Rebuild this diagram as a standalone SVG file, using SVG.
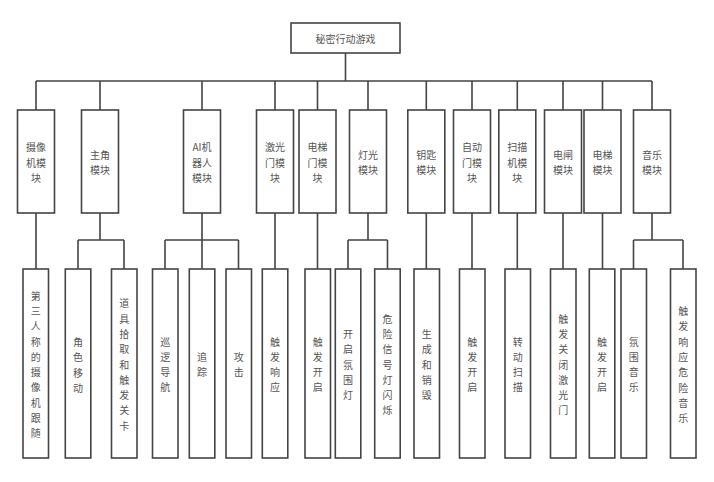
<svg xmlns="http://www.w3.org/2000/svg" width="714" height="482" viewBox="0 0 714 482">
<style>
.box{fill:#fff;stroke:#444;stroke-width:1.6}
.t{font-family:"Noto Sans CJK SC","Noto Sans",sans-serif;font-size:10px;fill:#555;text-anchor:middle;dominant-baseline:central}
.c{fill:none;stroke:#444;stroke-width:1.6}
</style>
<rect width="714" height="482" fill="#fff"/>
<g id="connectors">
<path class="c" d="M345.5,53V81M36,81H652M36,81V110M100,81V110M202,81V110M275,81V110M317.5,81V110M368,81V110M426.3,81V110M472,81V110M517.3,81V110M563,81V110M602.5,81V110M652,81V110"/>
<path class="c" d="M36,213V269M275,213V269M317.5,213V269M426.3,213V269M472,213V269M517.3,213V269M563,213V269M602.5,213V269"/>
<path class="c" d="M100,213V240M78,240H124M78,240V269M124,240V269"/>
<path class="c" d="M202,213V269M165,240H238.5M165,240V269M238.5,240V269"/>
<path class="c" d="M368,213V240M348,240H387.5M348,240V269M387.5,240V269"/>
<path class="c" d="M652,213V240M633.5,240H683M633.5,240V269M683,240V269"/>
</g>
<g id="root"><rect class="box" x="291" y="23" width="109" height="30"/><text class="t" x="345.5" y="38.5">秘密行动游戏</text></g>
<g id="m1"><rect class="box" x="17.5" y="110" width="37" height="103"/><text class="t" x="36"><tspan x="36" y="146">摄像</tspan><tspan x="36" y="161.5">机模</tspan><tspan x="36" y="177">块</tspan></text></g>
<g id="m2"><rect class="box" x="81.5" y="110" width="37" height="103"/><text class="t"><tspan x="100" y="153.75">主角</tspan><tspan x="100" y="169.25">模块</tspan></text></g>
<g id="m3"><rect class="box" x="183.5" y="110" width="37" height="103"/><text class="t"><tspan x="202" y="146">AI机</tspan><tspan x="202" y="161.5">器人</tspan><tspan x="202" y="177">模块</tspan></text></g>
<g id="m4"><rect class="box" x="256.5" y="110" width="37" height="103"/><text class="t"><tspan x="275" y="146">激光</tspan><tspan x="275" y="161.5">门模</tspan><tspan x="275" y="177">块</tspan></text></g>
<g id="m5"><rect class="box" x="299" y="110" width="37" height="103"/><text class="t"><tspan x="317.5" y="146">电梯</tspan><tspan x="317.5" y="161.5">门模</tspan><tspan x="317.5" y="177">块</tspan></text></g>
<g id="m6"><rect class="box" x="349.5" y="110" width="37" height="103"/><text class="t"><tspan x="368" y="153.75">灯光</tspan><tspan x="368" y="169.25">模块</tspan></text></g>
<g id="m7"><rect class="box" x="407.8" y="110" width="37" height="103"/><text class="t"><tspan x="426.3" y="153.75">钥匙</tspan><tspan x="426.3" y="169.25">模块</tspan></text></g>
<g id="m8"><rect class="box" x="453.5" y="110" width="37" height="103"/><text class="t"><tspan x="472" y="146">自动</tspan><tspan x="472" y="161.5">门模</tspan><tspan x="472" y="177">块</tspan></text></g>
<g id="m9"><rect class="box" x="498.8" y="110" width="37" height="103"/><text class="t"><tspan x="517.3" y="146">扫描</tspan><tspan x="517.3" y="161.5">机模</tspan><tspan x="517.3" y="177">块</tspan></text></g>
<g id="m10"><rect class="box" x="544.5" y="110" width="37" height="103"/><text class="t"><tspan x="563" y="153.75">电闸</tspan><tspan x="563" y="169.25">模块</tspan></text></g>
<g id="m11"><rect class="box" x="584" y="110" width="37" height="103"/><text class="t"><tspan x="602.5" y="153.75">电梯</tspan><tspan x="602.5" y="169.25">模块</tspan></text></g>
<g id="m12"><rect class="box" x="633.5" y="110" width="37" height="103"/><text class="t"><tspan x="652" y="153.75">音乐</tspan><tspan x="652" y="169.25">模块</tspan></text></g>
<g id="b1"><rect class="box" x="23" y="269" width="25.5" height="189"/><text class="t"><tspan x="35.8" y="294.6">第</tspan><tspan x="35.8" dy="15.3">三</tspan><tspan x="35.8" dy="15.3">人</tspan><tspan x="35.8" dy="15.3">称</tspan><tspan x="35.8" dy="15.3">的</tspan><tspan x="35.8" dy="15.3">摄</tspan><tspan x="35.8" dy="15.3">像</tspan><tspan x="35.8" dy="15.3">机</tspan><tspan x="35.8" dy="15.3">跟</tspan><tspan x="35.8" dy="15.3">随</tspan></text></g>
<g id="b2"><rect class="box" x="65.3" y="269" width="25.5" height="189"/><text class="t"><tspan x="78" y="341">角</tspan><tspan x="78" dy="15.3">色</tspan><tspan x="78" dy="15.3">移</tspan><tspan x="78" dy="15.3">动</tspan></text></g>
<g id="b3"><rect class="box" x="111.5" y="269" width="25.5" height="189"/><text class="t"><tspan x="124.2" y="302.3">道</tspan><tspan x="124.2" dy="15.3">具</tspan><tspan x="124.2" dy="15.3">拾</tspan><tspan x="124.2" dy="15.3">取</tspan><tspan x="124.2" dy="15.3">和</tspan><tspan x="124.2" dy="15.3">触</tspan><tspan x="124.2" dy="15.3">发</tspan><tspan x="124.2" dy="15.3">关</tspan><tspan x="124.2" dy="15.3">卡</tspan></text></g>
<g id="b4"><rect class="box" x="152.5" y="269" width="25.5" height="189"/><text class="t"><tspan x="165.2" y="340.5">巡</tspan><tspan x="165.2" dy="15.3">逻</tspan><tspan x="165.2" dy="15.3">导</tspan><tspan x="165.2" dy="15.3">航</tspan></text></g>
<g id="b5"><rect class="box" x="189.3" y="269" width="25.5" height="189"/><text class="t"><tspan x="202" y="355.9">追</tspan><tspan x="202" dy="15.3">踪</tspan></text></g>
<g id="b6"><rect class="box" x="226" y="269" width="25.5" height="189"/><text class="t"><tspan x="238.7" y="355.9">攻</tspan><tspan x="238.7" dy="15.3">击</tspan></text></g>
<g id="b7"><rect class="box" x="262.3" y="269" width="25.5" height="189"/><text class="t"><tspan x="275" y="340.5">触</tspan><tspan x="275" dy="15.3">发</tspan><tspan x="275" dy="15.3">响</tspan><tspan x="275" dy="15.3">应</tspan></text></g>
<g id="b8"><rect class="box" x="305" y="269" width="25.5" height="189"/><text class="t"><tspan x="317.7" y="340.5">触</tspan><tspan x="317.7" dy="15.3">发</tspan><tspan x="317.7" dy="15.3">开</tspan><tspan x="317.7" dy="15.3">启</tspan></text></g>
<g id="b9"><rect class="box" x="335.3" y="269" width="25.5" height="189"/><text class="t"><tspan x="348" y="332.9">开</tspan><tspan x="348" dy="15.3">启</tspan><tspan x="348" dy="15.3">氛</tspan><tspan x="348" dy="15.3">围</tspan><tspan x="348" dy="15.3">灯</tspan></text></g>
<g id="b10"><rect class="box" x="374.7" y="269" width="25.5" height="189"/><text class="t"><tspan x="387.4" y="317.6">危</tspan><tspan x="387.4" dy="15.3">险</tspan><tspan x="387.4" dy="15.3">信</tspan><tspan x="387.4" dy="15.3">号</tspan><tspan x="387.4" dy="15.3">灯</tspan><tspan x="387.4" dy="15.3">闪</tspan><tspan x="387.4" dy="15.3">烁</tspan></text></g>
<g id="b11"><rect class="box" x="414" y="269" width="25.5" height="189"/><text class="t"><tspan x="426.7" y="332.9">生</tspan><tspan x="426.7" dy="15.3">成</tspan><tspan x="426.7" dy="15.3">和</tspan><tspan x="426.7" dy="15.3">销</tspan><tspan x="426.7" dy="15.3">毁</tspan></text></g>
<g id="b12"><rect class="box" x="459.5" y="269" width="25.5" height="189"/><text class="t"><tspan x="472.2" y="340.5">触</tspan><tspan x="472.2" dy="15.3">发</tspan><tspan x="472.2" dy="15.3">开</tspan><tspan x="472.2" dy="15.3">启</tspan></text></g>
<g id="b13"><rect class="box" x="505" y="269" width="25.5" height="189"/><text class="t"><tspan x="517.7" y="340.5">转</tspan><tspan x="517.7" dy="15.3">动</tspan><tspan x="517.7" dy="15.3">扫</tspan><tspan x="517.7" dy="15.3">描</tspan></text></g>
<g id="b14"><rect class="box" x="550.5" y="269" width="25.5" height="189"/><text class="t"><tspan x="563.2" y="317.6">触</tspan><tspan x="563.2" dy="15.3">发</tspan><tspan x="563.2" dy="15.3">关</tspan><tspan x="563.2" dy="15.3">闭</tspan><tspan x="563.2" dy="15.3">激</tspan><tspan x="563.2" dy="15.3">光</tspan><tspan x="563.2" dy="15.3">门</tspan></text></g>
<g id="b15"><rect class="box" x="589.3" y="269" width="25.5" height="189"/><text class="t"><tspan x="602" y="340.5">触</tspan><tspan x="602" dy="15.3">发</tspan><tspan x="602" dy="15.3">开</tspan><tspan x="602" dy="15.3">启</tspan></text></g>
<g id="b16"><rect class="box" x="621" y="269" width="25.5" height="189"/><text class="t"><tspan x="633.7" y="340.5">氛</tspan><tspan x="633.7" dy="15.3">围</tspan><tspan x="633.7" dy="15.3">音</tspan><tspan x="633.7" dy="15.3">乐</tspan></text></g>
<g id="b17"><rect class="box" x="670.5" y="269" width="25.5" height="189"/><text class="t"><tspan x="683.2" y="310">触</tspan><tspan x="683.2" dy="15.3">发</tspan><tspan x="683.2" dy="15.3">响</tspan><tspan x="683.2" dy="15.3">应</tspan><tspan x="683.2" dy="15.3">危</tspan><tspan x="683.2" dy="15.3">险</tspan><tspan x="683.2" dy="15.3">音</tspan><tspan x="683.2" dy="15.3">乐</tspan></text></g>
</svg>
